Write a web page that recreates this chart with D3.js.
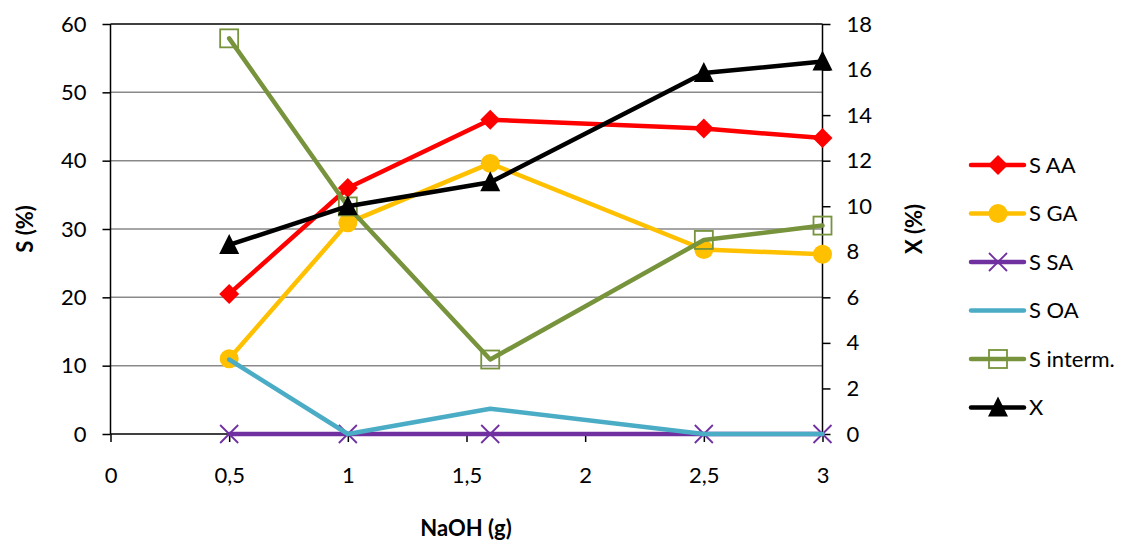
<!DOCTYPE html>
<html><head><meta charset="utf-8">
<script src="https://cdn.jsdelivr.net/npm/d3@7"></script>
<style>
body{margin:0;background:#fff;}
text{font-family:Lato,"Open Sans",sans-serif;fill:#000;}
</style></head>
<body><svg id="c" width="1128" height="540"></svg>
<script>
const naoh = [0.5, 1, 1.6, 2.5, 3];
const xTicks = [0, 0.5, 1, 1.5, 2, 2.5, 3];
const leftTicks = [0, 10, 20, 30, 40, 50, 60];
const rightTicks = [0, 2, 4, 6, 8, 10, 12, 14, 16, 18];
const sAA = [20.5, 36.0, 46.0, 44.7, 43.3];
const sGA = [11.0, 30.9, 39.6, 27.0, 26.3];
const sSA = [0, 0, 0, 0, 0];
const sOA = [10.9, 0, 3.7, 0, 0];
const sInterm = [57.9, 33.3, 10.9, 28.4, 30.5];
const xConv = [8.3, 10.0, 11.05, 15.85, 16.35];
const seriesNames = ["S AA", "S GA", "S SA", "S OA", "S interm.", "X"];

const svg = d3.select("#c");
const L = 110.5, R = 822.5, T = 24, B = 434;
const x = d3.scaleLinear().domain([0, 3]).range([L, R]);
const yL = d3.scaleLinear().domain([0, 60]).range([B, T]);
const yR = d3.scaleLinear().domain([0, 18]).range([B, T]);

// gridlines
svg.append("g").selectAll("line").data(leftTicks.filter(d => d > 0 && d < 60)).join("line")
  .attr("x1", L).attr("x2", R).attr("y1", d => yL(d)).attr("y2", d => yL(d))
  .attr("stroke", "#898989").attr("stroke-width", 1.5);
// top border
svg.append("line").attr("x1", L).attr("x2", R).attr("y1", T).attr("y2", T).attr("stroke", "#000").attr("stroke-width", 1.5);

const fmt = d => String(d).replace(".", ",");
const fs = "22px";
const gL = svg.append("g").attr("transform", `translate(${L},0)`)
  .call(d3.axisLeft(yL).tickValues(leftTicks).tickSize(8).tickPadding(16));
const gR = svg.append("g").attr("transform", `translate(${R},0)`)
  .call(d3.axisRight(yR).tickValues(rightTicks).tickSize(8).tickPadding(16));
const gX = svg.append("g").attr("transform", `translate(0,${B})`)
  .call(d3.axisBottom(x).tickValues(xTicks).tickFormat(fmt).tickSize(8).tickPadding(25));
[gL, gR, gX].forEach(g => {
  g.select(".domain").attr("stroke", "#000").attr("stroke-width", 1.5);
  g.selectAll(".tick line").attr("stroke", "#000").attr("stroke-width", 1.5);
  g.selectAll(".tick text").style("font-size", fs).style("font-family", "Lato,'Open Sans',sans-serif").attr("fill", "#000");
});
gX.select(".domain").attr("d", `M${L},0H${R}`);
gL.select(".domain").attr("d", `M0,${T}V${B}`);
gR.select(".domain").attr("d", `M0,${T}V${B}`);

// axis titles
svg.append("text").attr("transform", `translate(33,${(T + B) / 2}) rotate(-90)`).attr("text-anchor", "middle")
  .style("font-size", fs).style("font-weight", "bold").text("S (%)");
svg.append("text").attr("transform", `translate(922,${(T + B) / 2}) rotate(-90)`).attr("text-anchor", "middle")
  .style("font-size", fs).style("font-weight", "bold").text("X (%)");
svg.append("text").attr("x", 466).attr("y", 536).attr("text-anchor", "middle")
  .style("font-size", fs).style("font-weight", "bold").text("NaOH (g)");

// markers
function marker(g, type, color) {
  if (type === "diamond") g.append("path").attr("d", "M0,-10L10,0L0,10L-10,0Z").attr("fill", color);
  else if (type === "circle") g.append("circle").attr("r", 9.5).attr("fill", color);
  else if (type === "x") g.append("path").attr("d", "M-9,-9L9,9M-9,9L9,-9").attr("stroke", color).attr("stroke-width", 1.8).attr("fill", "none");
  else if (type === "square") g.append("rect").attr("x", -9).attr("y", -9).attr("width", 18).attr("height", 18).attr("fill", "none").attr("stroke", color).attr("stroke-width", 1.8);
  else if (type === "triangle") g.append("path").attr("d", "M0,-11L10,9L-10,9Z").attr("fill", color);
}

const series = [
  {name: seriesNames[0], vals: sAA, y: yL, color: "#FF0000", m: "diamond"},
  {name: seriesNames[1], vals: sGA, y: yL, color: "#FFC000", m: "circle"},
  {name: seriesNames[2], vals: sSA, y: yL, color: "#7030A0", m: "x"},
  {name: seriesNames[3], vals: sOA, y: yL, color: "#4BACC6", m: null},
  {name: seriesNames[4], vals: sInterm, y: yL, color: "#77933C", m: "square"},
  {name: seriesNames[5], vals: xConv, y: yR, color: "#000000", m: "triangle"}
];

series.forEach(s => {
  const line = d3.line().x((d, i) => x(naoh[i])).y(d => s.y(d));
  svg.append("path").datum(s.vals).attr("d", line).attr("fill", "none")
    .attr("stroke", s.color).attr("stroke-width", 4.5).attr("stroke-linejoin", "round").attr("stroke-linecap", "round");
  if (s.m) s.vals.forEach((v, i) => {
    const g = svg.append("g").attr("transform", `translate(${x(naoh[i])},${s.y(v)})`);
    marker(g, s.m, s.color);
  });
});

// legend
const lg = svg.append("g");
series.forEach((s, i) => {
  const yy = 165 + i * 48.5;
  lg.append("line").attr("x1", 971).attr("x2", 1024).attr("y1", yy).attr("y2", yy)
    .attr("stroke", s.color).attr("stroke-width", 4.5).attr("stroke-linecap", "round");
  if (s.m) marker(lg.append("g").attr("transform", `translate(998,${yy})`), s.m, s.color);
  lg.append("text").attr("x", 1029).attr("y", yy).attr("dy", "0.36em").style("font-size", fs).text(s.name);
});
</script></body></html>
